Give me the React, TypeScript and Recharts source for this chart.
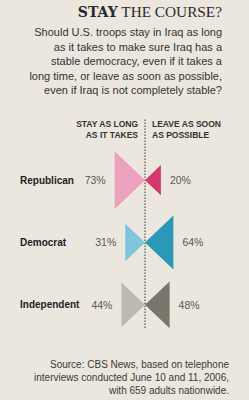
import React from 'react';
import { ScatterChart, Scatter, XAxis, YAxis, ZAxis, ReferenceLine } from 'recharts';

const parties = ['Republican', 'Democrat', 'Independent'];
const stayValues = [73, 31, 44];
const leaveValues = [20, 64, 48];
const stayColors = ['#eca1bd', '#80c5de', '#bcb9af'];
const leaveColors = ['#d2386e', '#2a98b7', '#7a766c'];

const rows = parties.map((party, i) => ({ party, stay: stayValues[i], leave: leaveValues[i] }));

const SANS = '"Liberation Sans", Arial, Helvetica, sans-serif';
const BG = '#ebe7de';

const makeShape = (side: 'stay' | 'leave') => (props: any) => {
  const { cx, cy, size, payload } = props;
  if (cx == null || cy == null) return <g />;
  const idx = parties.indexOf(payload.party);
  const d = 2 * Math.sqrt(Math.max(size, 0) / Math.PI);
  const h = d;
  const w = d * 0.526;
  const sign = side === 'stay' ? -1 : 1;
  const pts = `${cx},${cy} ${cx + sign * w},${cy - h / 2} ${cx + sign * w},${cy + h / 2}`;
  const value = side === 'stay' ? payload.stay : payload.leave;
  return (
    <g>
      <polygon points={pts} fill={side === 'stay' ? stayColors[idx] : leaveColors[idx]} />
      <text
        x={cx + sign * (w + 9)}
        y={cy}
        dy="0.36em"
        textAnchor={side === 'stay' ? 'end' : 'start'}
        fontFamily={SANS}
        fontSize={10.5}
        fill="#5a5852"
      >
        {value}%
      </text>
    </g>
  );
};

const PartyTick = (props: any) => {
  const { y, payload } = props;
  return (
    <text x={20} y={y} dy="0.36em" textAnchor="start" fontFamily={SANS} fontWeight="bold" fontSize={10} fill="#222">
      {payload.value}
    </text>
  );
};

export default function App() {
  return (
    <div style={{ position: 'absolute', left: 0, top: 0, width: 249, height: 400, background: BG, overflow: 'hidden' }}>
      <div style={{ position: 'absolute', right: 27, top: 2, fontSize: 15.3, whiteSpace: 'nowrap', color: '#2a2a2a', lineHeight: '20px' }}>
        <span style={{ fontFamily: '"DejaVu Serif", serif', fontWeight: 'bold', fontSize: 14 }}>STAY</span>
        <span style={{ fontFamily: '"Liberation Serif", serif' }}> THE COURSE?</span>
      </div>
      <div style={{ position: 'absolute', right: 27, top: 25, textAlign: 'right', fontFamily: SANS, fontSize: 11, lineHeight: '14.5px', color: '#333', whiteSpace: 'nowrap' }}>
        Should U.S. troops stay in Iraq as long<br />
        as it takes to make sure Iraq has a<br />
        stable democracy, even if it takes a<br />
        long time, or leave as soon as possible,<br />
        even if Iraq is not completely stable?
      </div>
      <div style={{ position: 'absolute', right: 249 - 138, top: 119, textAlign: 'right', fontFamily: SANS, fontWeight: 'bold', fontSize: 8.5, lineHeight: '11px', color: '#333', whiteSpace: 'nowrap' }}>
        STAY AS LONG<br />AS IT TAKES
      </div>
      <div style={{ position: 'absolute', left: 152, top: 119, textAlign: 'left', fontFamily: SANS, fontWeight: 'bold', fontSize: 8.5, lineHeight: '11px', color: '#333', whiteSpace: 'nowrap' }}>
        LEAVE AS SOON<br />AS POSSIBLE
      </div>
      <div style={{ position: 'absolute', left: 0, top: 0 }}>
        <ScatterChart width={249} height={400} margin={{ top: 118, right: 19, bottom: 72, left: 0 }}>
          <XAxis type="number" dataKey={() => 0} domain={[-1, 1]} hide />
          <YAxis
            type="category"
            dataKey="party"
            width={60}
            reversed
            axisLine={false}
            tickLine={false}
            tick={<PartyTick />}
            padding={{ top: 31, bottom: -8 }}
          />
          <ZAxis zAxisId="stay" dataKey="stay" domain={[0, 100]} range={[0, 3579]} />
          <ZAxis zAxisId="leave" dataKey="leave" domain={[0, 100]} range={[0, 3579]} />
          <ReferenceLine x={0} stroke="#555" strokeWidth={1.2} strokeDasharray="1.5 1.5" />
          <Scatter data={rows} zAxisId="stay" shape={makeShape('stay')} isAnimationActive={false} />
          <Scatter data={rows} zAxisId="leave" shape={makeShape('leave')} isAnimationActive={false} />
        </ScatterChart>
      </div>
      <div style={{ position: 'absolute', right: 20, top: 358, textAlign: 'right', fontFamily: SANS, fontSize: 10, lineHeight: '13px', color: '#3a3a3a', whiteSpace: 'nowrap' }}>
        Source: CBS News, based on telephone<br />
        interviews conducted June 10 and 11, 2006,<br />
        with 659 adults nationwide.
      </div>
    </div>
  );
}
